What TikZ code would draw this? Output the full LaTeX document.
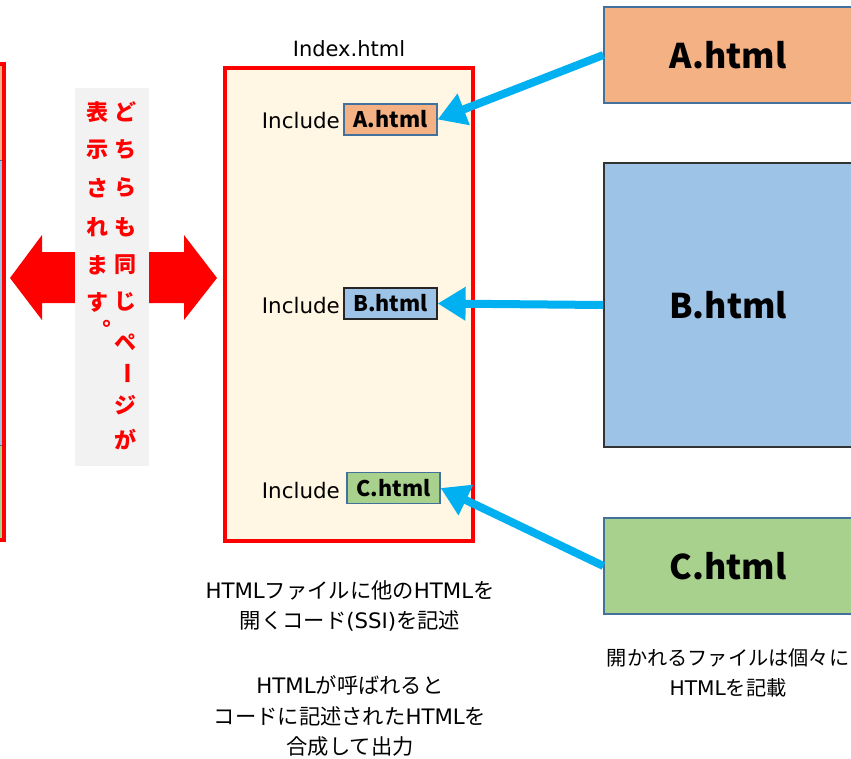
\documentclass[tikz,border=0pt]{standalone}
\usepackage{fontspec}
\setmainfont{DejaVu Sans}
\newfontfamily\jp{Noto Sans CJK JP}
\newfontfamily\jpv[RawFeature=+vert]{Noto Sans CJK JP}
\usetikzlibrary{arrows.meta}
\definecolor{redc}{HTML}{FF0000}
\definecolor{cyanc}{HTML}{00B0F0}
\definecolor{orangec}{HTML}{F4B183}
\definecolor{bluec}{HTML}{9DC3E6}
\definecolor{greenc}{HTML}{A9D18E}
\definecolor{creamc}{HTML}{FFF6E3}
\definecolor{grayc}{HTML}{F2F2F2}
\definecolor{edgec}{HTML}{41719C}
\tikzset{
  bigbox/.style={draw=edgec, line width=1.2pt, inner sep=0pt, minimum width=248pt, font=\jp\fontsize{34}{40}\selectfont\bfseries},
  smallbox/.style={draw=edgec, line width=1.2pt, inner sep=0pt, minimum width=93pt, minimum height=31pt, font=\jp\fontsize{21.5}{25}\selectfont\bfseries},
  inclabel/.style={anchor=east, inner sep=0pt, font=\fontsize{21.4}{25}\selectfont},
  conn/.style={draw=cyanc, line width=8pt, -{Triangle[length=28pt,width=32pt]}},
  vchar/.style={text=redc, inner sep=0pt, font=\jp\fontsize{22}{22}\selectfont\bfseries},
  note/.style={align=center, inner sep=0pt, font=\fontsize{21.3}{30.5}\selectfont},
}
\begin{document}
\begin{tikzpicture}[x=1pt,y=-1pt]
\useasboundingbox (0,0) rectangle (851,758);
\clip (0,0) rectangle (851,758);
% partial page on the left
\fill[orangec] (-250,66) rectangle (3,160);
\fill[bluec] (-250,160) rectangle (3,445);
\fill[greenc] (-250,445) rectangle (3,539);
\draw[edgec, line width=1pt] (-250,160) -- (3,160) (-250,445) -- (3,445);
\draw[redc, line width=4pt] (-250,64) rectangle (4,540);
% double arrow
\fill[redc] (10,278) -- (42,235) -- (42,252) -- (184,252) -- (184,235) -- (217,278)
  -- (184,320) -- (184,303) -- (42,303) -- (42,320) -- cycle;
\node[fill=grayc, inner sep=0pt, minimum width=74pt, minimum height=378pt] (label) at (112,277) {};
% vertical text, right column
\node[vchar] (r1) at (125,112) {ど};
\node[vchar] (r2) at (125,150) {ち};
\node[vchar] (r3) at (125,188) {ら};
\node[vchar] (r4) at (125,227) {も};
\node[vchar] (r5) at (125,265) {同};
\node[vchar] (r6) at (125,302) {じ};
\node[vchar] (r7) at (125,342) {ペ};
\node[vchar, rotate=-90] (r8) at (125,373) {ー};
\node[vchar] (r9) at (125,405) {ジ};
\node[vchar] (r10) at (125,440) {が};
% vertical text, left column
\node[vchar] (l1) at (97,112) {表};
\node[vchar] (l2) at (97,150) {示};
\node[vchar] (l3) at (97,188) {さ};
\node[vchar] (l4) at (97,227) {れ};
\node[vchar] (l5) at (97,265) {ま};
\node[vchar] (l6) at (97,302) {す};
\node[vchar, font=\jpv\fontsize{22}{22}\selectfont\bfseries] (l7) at (100.5,329.5) {。};
% index.html
\node[draw=redc, fill=creamc, line width=4pt, minimum width=248pt, minimum height=473pt, inner sep=0pt] (index) at (349,304.5) {};
\node[inner sep=0pt, font=\fontsize{21}{24}\selectfont] (indexlbl) at (349,49) {Index.html};
\node[smallbox, fill=orangec] (sa) at (390.5,119.5) {A.html};
\node[smallbox, fill=bluec, draw=black!85] (sb) at (390.5,303.5) {B.html};
\node[smallbox, fill=greenc] (sc) at (393.5,488) {C.html};
\node[inclabel] (ia) at (340,121) {Include};
\node[inclabel] (ib) at (340,306) {Include};
\node[inclabel] (ic) at (340,491) {Include};
% big boxes
\node[bigbox, fill=orangec, minimum height=96pt] (ba) at (728,55) {A.html};
\node[bigbox, fill=bluec, draw=black!80, minimum height=284pt] (bb) at (728,305) {B.html};
\node[bigbox, fill=greenc, minimum height=96pt] (bc) at (728,566) {C.html};
% connectors
\draw[conn] (ba.west) -- (sa.east);
\draw[conn] (bb.west) -- (sb.east);
\draw[conn] (bc.west) -- (sc.east);
% notes
\node[note] (n1) at (350,606) {HTML{\jp ファイルに他の}HTML{\jp を}\\{\jp 開くコード}(SSI){\jp を記述}};
\node[note] (n2) at (350,716) {HTML{\jp が呼ばれると}\\{\jp コードに記述された}HTML{\jp を}\\{\jp 合成して出力}};
\node[note, font=\fontsize{20.2}{30.5}\selectfont] (n3) at (728,673) {{\jp 開かれるファイルは個々に}\\HTML{\jp を記載}};
\end{tikzpicture}
\end{document}
